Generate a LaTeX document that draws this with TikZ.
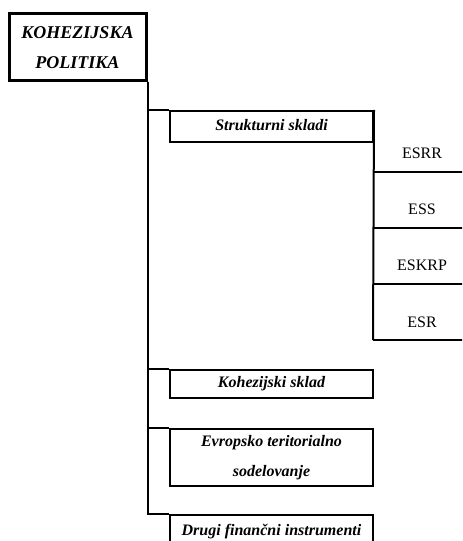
\documentclass[tikz,border=0pt]{standalone}
\usepackage{fontspec}
\setmainfont{Liberation Serif}
\begin{document}
\begin{tikzpicture}[x=0.75pt,y=-0.75pt,
  line join=miter,
  titlebox/.style={draw,line width=2.25pt,inner sep=0pt,minimum width=102.75pt,minimum height=50.25pt,align=center,
    font=\fontsize{13.5}{21}\selectfont\bfseries\itshape},
  subbox/.style={draw,line width=1.5pt,inner sep=0pt,minimum width=152.25pt,align=center,
    font=\fontsize{12}{21}\selectfont\bfseries\itshape},
  cell/.style={inner sep=0pt,font=\fontsize{12}{14}\selectfont},
  conn/.style={line width=1.5pt}]
\useasboundingbox (0,0) rectangle (462,541);
\clip (0,0) rectangle (462,541);
% title
\node[titlebox] (title) at (77.5,47.5) {\raisebox{1pt}{KOHEZIJSKA}\\POLITIKA};
% second level boxes
\node[subbox,minimum height=23.25pt] (struk) at (271.5,126.5) {\raisebox{2.5pt}{Strukturni skladi}};
\node[subbox,minimum height=21pt] (kohez) at (271.5,384) {\raisebox{1pt}{Kohezijski sklad}};
\node[subbox,minimum height=42.75pt] (evrop) at (271.5,457.5) {\raisebox{2pt}{Evropsko teritorialno}\\sodelovanje};
\node[subbox,minimum height=25.5pt] (drugi) at (271.5,532) {Drugi finančni instrumenti};
% third level cells
\node[cell] (esrr) at (422,153) {ESRR};
\node[cell] (ess) at (422,209) {ESS};
\node[cell] (eskrp) at (422,265) {ESKRP};
\node[cell] (esr) at (422,322) {ESR};
\coordinate (esrrb) at (373,172);
\coordinate (essb) at (373,228);
\coordinate (eskrpb) at (373,284);
\coordinate (esrb) at (373,340);
% connectors
\draw[conn] (title.south east) |- (drugi.north west);
\draw[conn] (struk.north west -| title.south east) -- (struk.north west);
\draw[conn] (kohez.north west -| title.south east) -- (kohez.north west);
\draw[conn] (evrop.north west -| title.south east) -- (evrop.north west);
\draw[conn] (struk.north east) -- (esrb);
\foreach \c in {esrrb,essb,eskrpb,esrb}{
  \draw[conn] (\c) -- ++(100,0);
}
\end{tikzpicture}
\end{document}
